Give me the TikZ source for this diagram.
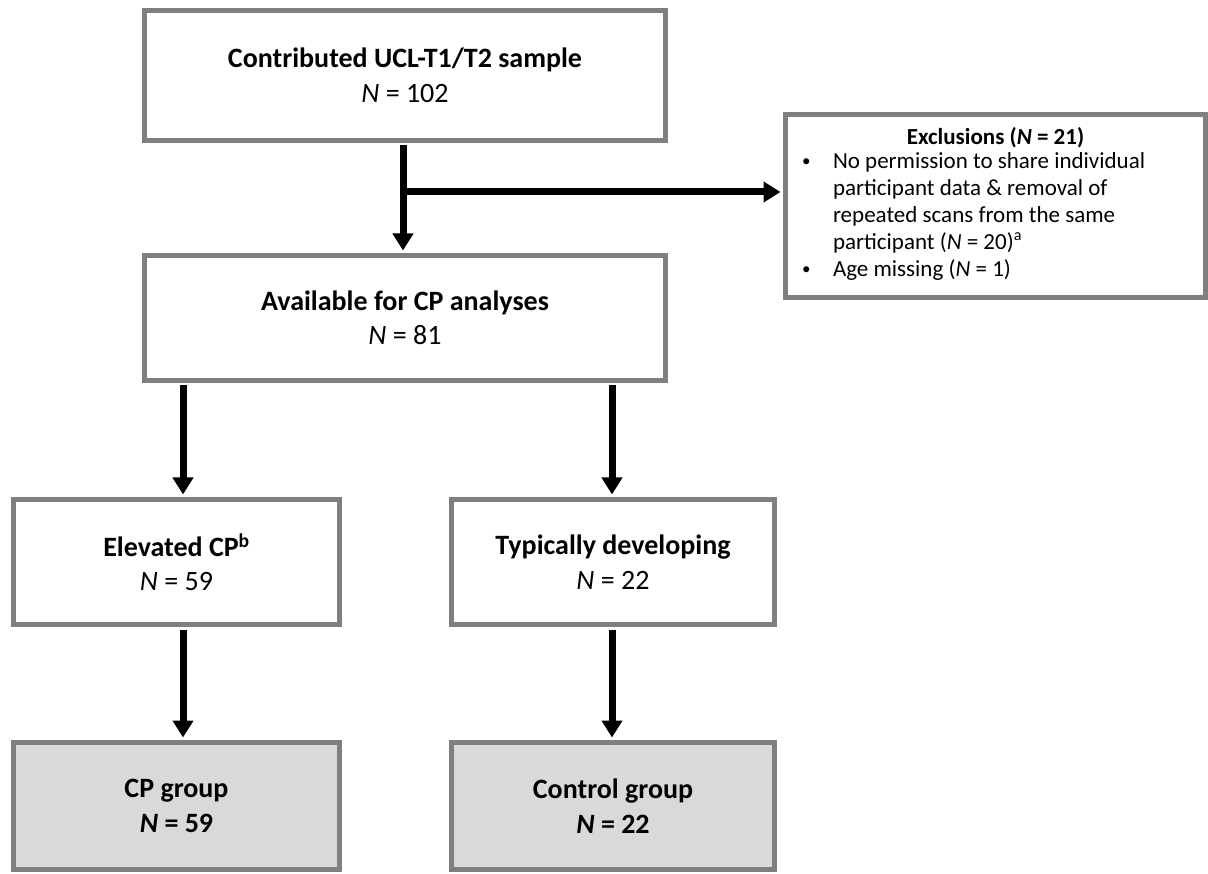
\documentclass[tikz,border=0pt]{standalone}
\usepackage{fontspec}
\setmainfont{Carlito}
\usetikzlibrary{arrows.meta}
\definecolor{boxgrey}{HTML}{7F7F7F}
\definecolor{boxfill}{HTML}{D9D9D9}
% small list bullet
\newcommand{\exbullet}{\hspace*{14pt}\raisebox{1.5pt}{\fontsize{17}{17}\selectfont\textbullet}}

\begin{document}
\begin{tikzpicture}[x=1pt,y=-1pt,
  flowbox/.style={draw=boxgrey, line width=5pt, fill=white, inner sep=0pt,
    align=center, font=\fontsize{28}{34.5}\selectfont},
  groupbox/.style={flowbox, fill=boxfill},
  exclbox/.style={draw=boxgrey, line width=5pt, fill=white, inner sep=0pt,
    font=\fontsize{23}{27}\selectfont},
  flowarrow/.style={line width=7pt, -{Triangle[width=20pt,length=17pt]},
    shorten >=2.5pt},
  ]
\useasboundingbox (0,0) rectangle (1208,874);

% boxes
\node[flowbox, minimum width=521pt, minimum height=130pt] (top) at (405,75.5)
  {\textbf{Contributed UCL-T1/T2 sample}\\\textit{N} = 102};
\node[flowbox, minimum width=521pt, minimum height=125pt] (avail) at (405,318)
  {\textbf{Available for CP analyses}\\\textit{N} = 81};
\node[exclbox, minimum width=420pt, minimum height=183pt] (excl) at (995.5,206)
  {\begin{minipage}{415pt}
   \centering\textbf{Exclusions (\textit{N} = 21)}\par
   \raggedright
   \begin{tabular}{@{}p{45pt}@{}l@{}}
   \exbullet & No permission to share individual\\
    & participant data \& removal of\\
    & repeated scans from the same\\
    & participant (\textit{N} = 20)\textsuperscript{a}\\
   \exbullet & Age missing (\textit{N} = 1)
   \end{tabular}
   \end{minipage}};
\node[flowbox, minimum width=326pt, minimum height=125pt] (elev) at (176.5,562)
  {\textbf{Elevated CP\textsuperscript{b}}\\\textit{N} = 59};
\node[flowbox, minimum width=323pt, minimum height=125pt] (typ) at (613,562)
  {\textbf{Typically developing}\\\textit{N} = 22};
\node[groupbox, minimum width=326pt, minimum height=127pt] (cp) at (176.5,806)
  {\textbf{CP group}\\\textbf{\textit{N} = 59}};
\node[groupbox, minimum width=323pt, minimum height=127pt] (ctrl) at (613,806)
  {\textbf{Control group}\\\textbf{\textit{N} = 22}};

% arrow columns
\coordinate (split) at (403,192);
\coordinate (lcol) at (183,0);
\coordinate (rcol) at (612,0);

% connectors
\draw[flowarrow, shorten <=2.5pt] (top.south -| split) -- (avail.north -| split);
\draw[flowarrow] (split) -- (split -| excl.west);
\draw[flowarrow, shorten <=2.5pt] (avail.south -| lcol) -- (elev.north -| lcol);
\draw[flowarrow, shorten <=2.5pt] (avail.south -| rcol) -- (typ.north -| rcol);
\draw[flowarrow, shorten <=2.5pt] (elev.south -| lcol) -- (cp.north -| lcol);
\draw[flowarrow, shorten <=2.5pt] (typ.south -| rcol) -- (ctrl.north -| rcol);
\end{tikzpicture}
\end{document}
